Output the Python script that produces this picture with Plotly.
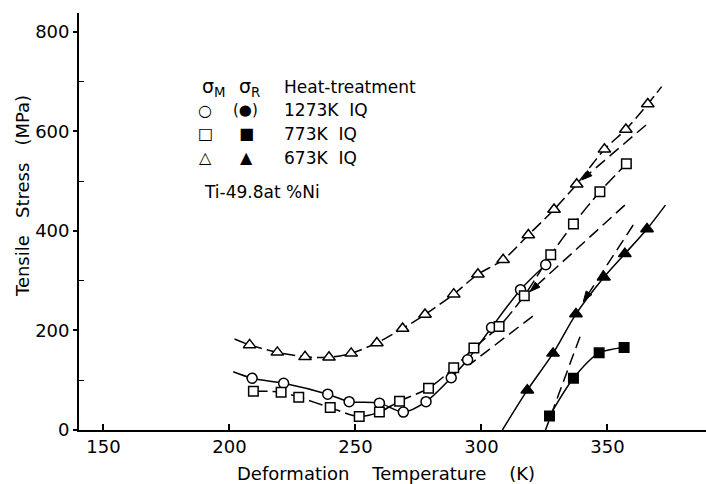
import plotly.graph_objects as go

# ---------------- data ----------------
# sigma_M, 1273K IQ (open circles)
circ_x = [209, 221.5, 239, 247.5, 259.5, 269, 278, 288, 294.5, 304, 315.5, 325.5]
circ_y = [104, 94, 72, 57, 54, 36, 57, 105, 141, 206, 282, 332]
circ_ext_x = [201.5]
circ_ext_y = [117]

# sigma_M, 773K IQ (open squares)
sq_x = [209.5, 220.5, 227.5, 240, 251.5, 259.5, 267.5, 279, 289, 297, 307, 317, 327.5, 336.5, 347, 357.5]
sq_y = [78, 76, 66, 45, 27, 36, 58, 84, 125, 165, 208, 270, 352, 414, 479, 535]

# sigma_M, 673K IQ (open triangles)
tri_x = [208, 219, 230, 239.5, 248.3, 258.5, 268.7, 277.6, 289, 298.6, 308.6, 318.6, 328.8, 337.8, 348.8, 357.3, 366]
tri_y = [171, 156, 147, 146, 154, 175, 204, 232, 273, 313, 342, 392, 443, 494, 564, 604, 655]
tri_ext_start = (202, 183)
tri_ext_end = (371.5, 690)

# sigma_R, 773K IQ (filled squares)
fsq_x = [327, 336.5, 346.7, 356.6]
fsq_y = [28, 104, 155, 166]

# sigma_R, 673K IQ (filled triangles)
ftri_x = [318.2, 328.4, 337.5, 348.6, 356.9, 365.7]
ftri_y = [80, 154, 233, 307, 354, 404]
ftri_ext_start = (308.3, 0)
ftri_ext_end = (373, 452)

# straight dashed reference lines (end points in axis units)
lineA_x, lineA_y = [365.3, 339.8], [613, 502.5]   # with arrow
lineB_x, lineB_y = [356.9, 319.2], [452, 278]     # with arrow
lineC_x, lineC_y = [320.4, 295.4], [229, 132]
lineD_x, lineD_y = [360.2, 340.4], [412, 258]     # with arrow
lineE_x, lineE_y = [339.1, 325.2], [187.5, -3]

x_ticks = [150, 200, 250, 300, 350]
y_ticks = [0, 200, 400, 600, 800]

FONT = "DejaVu Sans"
BLACK = "black"

fig = go.Figure()

def add_line(xs, ys, dash="solid", shape="spline", width=1.5):
    fig.add_trace(go.Scatter(x=xs, y=ys, mode="lines",
                             line=dict(color=BLACK, width=width, dash=dash, shape=shape, smoothing=0.8),
                             showlegend=False, hoverinfo="skip"))

def add_markers(xs, ys, symbol, size, fill):
    fig.add_trace(go.Scatter(x=xs, y=ys, mode="markers",
                             marker=dict(symbol=symbol, size=size, color=fill,
                                         line=dict(color=BLACK, width=1.5)),
                             showlegend=False, cliponaxis=False))

# curves
add_line([tri_ext_start[0]] + tri_x + [tri_ext_end[0]],
         [tri_ext_start[1]] + tri_y + [tri_ext_end[1]], dash="12px,5px")
add_line(circ_ext_x + circ_x, circ_ext_y + circ_y, dash="solid")
add_line(sq_x, sq_y, dash="14px,5px")
add_line([ftri_ext_start[0]] + ftri_x + [ftri_ext_end[0]],
         [ftri_ext_start[1]] + ftri_y + [ftri_ext_end[1]], dash="solid")
add_line(fsq_x, fsq_y, dash="solid")

# straight dashed lines
for lx, ly in [(lineC_x, lineC_y), (lineE_x, lineE_y)]:
    add_line(lx, ly, dash="12px,6px", shape="linear")

# straight dashed lines ending in an arrow head
for lx, ly in [(lineA_x, lineA_y), (lineB_x, lineB_y), (lineD_x, lineD_y)]:
    fig.add_trace(go.Scatter(x=lx, y=ly, mode="lines+markers",
                             line=dict(color=BLACK, width=1.5, dash="12px,6px"),
                             marker=dict(symbol="arrow", angleref="previous", size=[0, 11],
                                         color=BLACK, opacity=1,
                                         line=dict(color=BLACK, width=1)),
                             showlegend=False, hoverinfo="skip"))

# markers
add_markers(circ_x, circ_y, "circle", 10, "white")
add_markers(sq_x, sq_y, "square", 9.5, "white")
add_markers(tri_x, tri_y, "triangle-up", 11, "white")
add_markers(fsq_x, fsq_y, "square", 9.5, BLACK)
add_markers(ftri_x, ftri_y, "triangle-up", 11, BLACK)

# legend block as text
def txt(x, y, s, size=17, anchor="left"):
    fig.add_annotation(x=x, y=y, xref="x", yref="y", text=s, showarrow=False,
                       xanchor=anchor, yanchor="middle",
                       font=dict(family=FONT, size=size, color=BLACK))

txt(193.8, 689, "σ<sub>M</sub>", size=19, anchor="center")
txt(208.1, 689, "σ<sub>R</sub>", size=19, anchor="center")
txt(220.8, 689, "Heat-treatment")
rows_y = [643, 595, 547]
txt(190.3, rows_y[0], "○", size=16, anchor="center")
txt(206.5, rows_y[0], "(●)", size=15, anchor="center")
txt(220.8, rows_y[0], "1273K\u00a0\u00a0IQ")
txt(190.3, rows_y[1], "□", size=16, anchor="center")
txt(206.9, rows_y[1], "■", size=16, anchor="center")
txt(220.8, rows_y[1], "773K\u00a0\u00a0IQ")
txt(190.3, rows_y[2], "△", size=16, anchor="center")
txt(206.9, rows_y[2], "▲", size=16, anchor="center")
txt(220.8, rows_y[2], "673K\u00a0\u00a0IQ")
txt(189.3, 478, "Ti-49.8at\u00a0%Ni")

# axis titles
fig.add_annotation(x=0.49, y=-0.105, xref="paper", yref="paper", showarrow=False,
                   text="Deformation\u00a0\u00a0\u00a0\u00a0Temperature\u00a0\u00a0\u00a0\u00a0(K)",
                   xanchor="center", yanchor="middle",
                   font=dict(family=FONT, size=18, color=BLACK))
fig.add_annotation(x=-0.09, y=0.56, xref="paper", yref="paper", showarrow=False,
                   text="Tensile\u00a0\u00a0\u00a0Stress\u00a0\u00a0\u00a0(MPa)", textangle=-90,
                   xanchor="center", yanchor="middle",
                   font=dict(family=FONT, size=18, color=BLACK))

fig.update_layout(
    width=706, height=484,
    margin=dict(l=79, r=0, t=13, b=54),
    paper_bgcolor="white", plot_bgcolor="white",
    showlegend=False,
    xaxis=dict(range=[140.3, 389.1], tickvals=x_ticks, ticktext=[str(v) for v in x_ticks],
               ticks="inside", ticklen=6, tickwidth=1.5, tickcolor=BLACK,
               showline=True, linecolor=BLACK, linewidth=1.5,
               showgrid=False, zeroline=False,
               tickfont=dict(family=FONT, size=18, color=BLACK)),
    yaxis=dict(range=[0, 838], tickvals=y_ticks, ticktext=[str(v) for v in y_ticks],
               ticks="outside", ticklen=4, tickwidth=1.5, tickcolor=BLACK,
               minor=dict(tickvals=[100, 300, 500, 700], ticks="inside", ticklen=5,
                          tickwidth=1.2, tickcolor=BLACK),
               showline=True, linecolor=BLACK, linewidth=1.8,
               showgrid=False, zeroline=False,
               tickfont=dict(family=FONT, size=18, color=BLACK)),
)

fig.write_html("out.html", config={"displayModeBar": False},
               post_script="document.body.style.margin='0';document.body.style.padding='0';")
